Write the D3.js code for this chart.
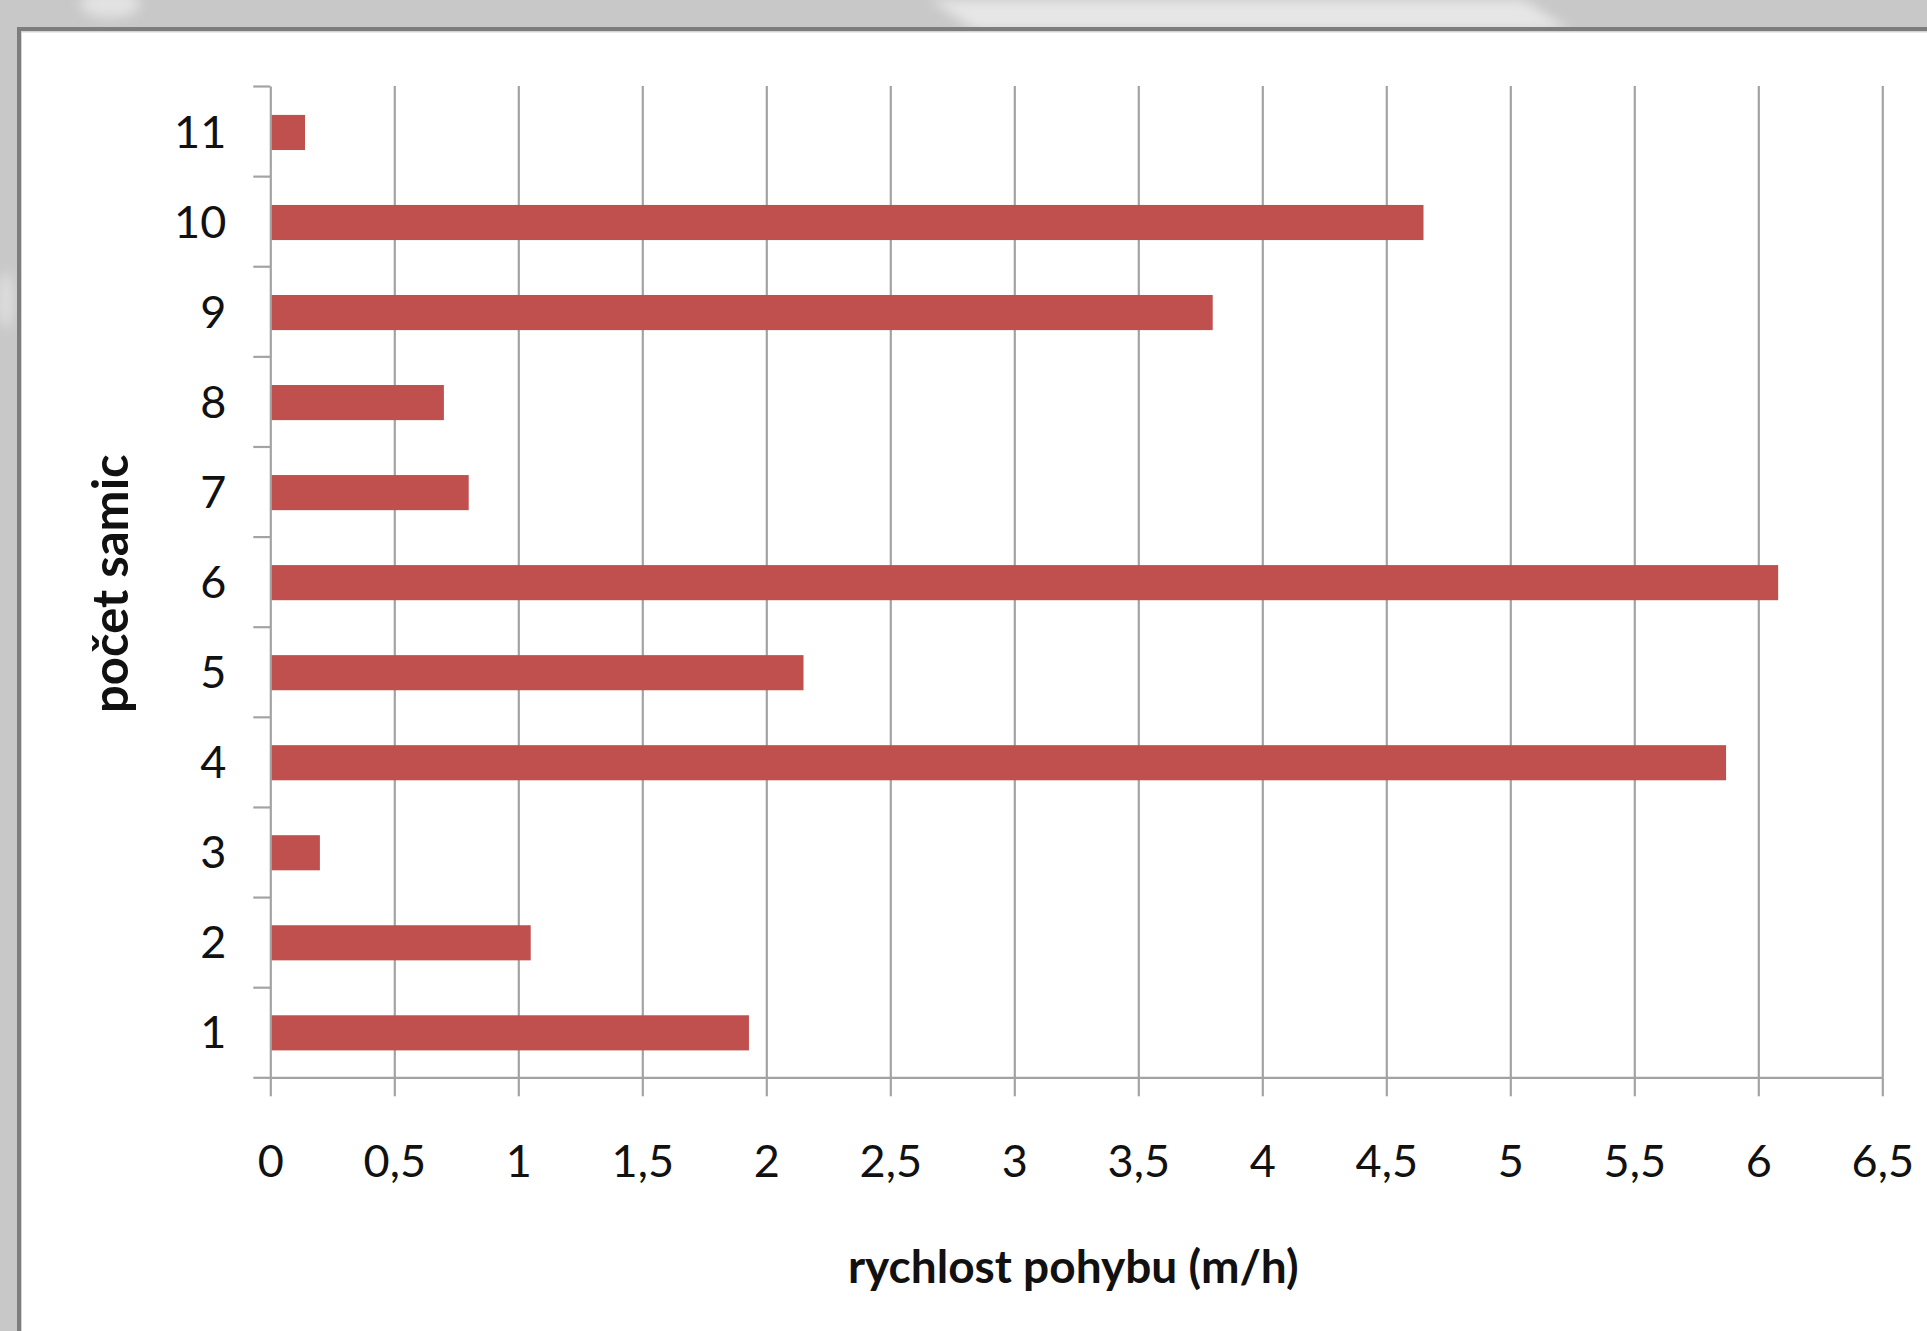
<!DOCTYPE html>
<html>
<head>
<meta charset="utf-8">
<script src="https://cdn.jsdelivr.net/npm/d3@7"></script>
<style>
  html, body { margin: 0; padding: 0; background: #c8c8c8; overflow: hidden; }
  svg { display: block; }
</style>
</head>
<body>
<svg id="chart" width="1927" height="1331"></svg>
<script>
// Number of females (category axis) and the movement speed for each (m/h)
const categories = ["1", "2", "3", "4", "5", "6", "7", "8", "9", "10", "11"];
const speeds = [1.93, 1.05, 0.20, 5.87, 2.15, 6.08, 0.80, 0.70, 3.80, 4.65, 0.14];
const xTicks = [0, 0.5, 1, 1.5, 2, 2.5, 3, 3.5, 4, 4.5, 5, 5.5, 6, 6.5];
const xTitle = "rychlost pohybu (m/h)";
const yTitle = "počet samic";

const W = 1927, H = 1331;
const plot = { left: 270.3, right: 1882.3, top: 86, bottom: 1077.3 };

const svg = d3.select("#chart");
const font = "Lato, 'Open Sans', sans-serif";

// ---- slide-style backdrop with a framed white panel ----
const defs = svg.append("defs");
defs.append("filter").attr("id", "soft")
  .append("feGaussianBlur").attr("stdDeviation", 6);

svg.append("rect").attr("width", W).attr("height", H).attr("fill", "#c8c8c8");
const glow = svg.append("g").attr("filter", "url(#soft)");
glow.append("path").attr("d", "M930,0 L1524,0 L1570,30 L975,30 Z").attr("fill", "#e6e6e6");
glow.append("ellipse").attr("cx", 110).attr("cy", 4).attr("rx", 30).attr("ry", 14).attr("fill", "#e2e2e2");
glow.append("ellipse").attr("cx", 6).attr("cy", 300).attr("rx", 8).attr("ry", 28).attr("fill", "#dedede");

svg.append("rect").attr("x", 17).attr("y", 27).attr("width", W).attr("height", H).attr("fill", "#7d7d7d");
svg.append("rect").attr("x", 21).attr("y", 31).attr("width", W).attr("height", H).attr("fill", "#d4d4d4");
svg.append("rect").attr("x", 22).attr("y", 32.5).attr("width", W).attr("height", H).attr("fill", "#ffffff");

// ---- scales ----
const x = d3.scaleLinear().domain([0, 6.5]).range([plot.left, plot.right]);
const y = d3.scaleBand().domain(categories)
  .range([plot.bottom, plot.top])
  .paddingInner(0.61).paddingOuter(0.31);
const yEdges = d3.scaleLinear().domain([0, categories.length]).range([plot.bottom, plot.top]);

const lineColor = "#a3a3a3";
const g = svg.append("g");

// vertical gridlines
g.append("g")
  .attr("transform", `translate(0,${plot.bottom})`)
  .call(d3.axisBottom(x).tickValues(xTicks.slice(1)).tickSize(-(plot.bottom - plot.top)).tickFormat(""))
  .call(s => s.select(".domain").remove())
  .call(s => s.selectAll("line").attr("stroke", lineColor).attr("stroke-width", 2.2));

// bars
g.append("g").selectAll("rect")
  .data(categories.map((c, i) => ({ c, v: speeds[i] })))
  .join("rect")
  .attr("x", x(0))
  .attr("y", d => y(d.c) + 1)
  .attr("width", d => x(d.v) - x(0))
  .attr("height", y.bandwidth())
  .attr("fill", "#c0504d");

// x axis with outward ticks and comma decimals
const xAxis = g.append("g")
  .attr("transform", `translate(0,${plot.bottom})`)
  .call(d3.axisBottom(x).tickValues(xTicks).tickSize(19).tickSizeOuter(0)
    .tickFormat(d => String(d).replace(".", ",")));
xAxis.select(".domain").attr("stroke", lineColor).attr("stroke-width", 2.2);
xAxis.selectAll("line").attr("stroke", lineColor).attr("stroke-width", 2.2);
xAxis.selectAll("text")
  .attr("y", 100).attr("dy", null)
  .attr("font-family", font).attr("font-size", 45).attr("fill", "#111");

// y axis: ticks sit on the category boundaries, labels in the middle of each band
const yTicks = g.append("g")
  .attr("transform", `translate(${plot.left},0)`)
  .call(d3.axisLeft(yEdges).ticks(categories.length).tickSize(17).tickSizeOuter(0).tickFormat(""));
yTicks.select(".domain").attr("stroke", lineColor).attr("stroke-width", 2.2);
yTicks.selectAll("line").attr("stroke", lineColor).attr("stroke-width", 2.2);

const yLabels = g.append("g")
  .attr("transform", `translate(${plot.left},0)`)
  .call(d3.axisLeft(y).tickSize(0).tickPadding(44));
yLabels.select(".domain").remove();
yLabels.selectAll("text")
  .attr("dy", "0.36em")
  .attr("font-family", font).attr("font-size", 45).attr("fill", "#111");

// axis titles
svg.append("text")
  .attr("x", (plot.left + plot.right) / 2 - 3)
  .attr("y", 1283)
  .attr("text-anchor", "middle")
  .attr("font-family", font).attr("font-weight", "bold").attr("font-size", 46)
  .attr("fill", "#111")
  .text(xTitle);

svg.append("text")
  .attr("transform", `translate(128,${(plot.top + plot.bottom) / 2 + 2}) rotate(-90)`)
  .attr("text-anchor", "middle")
  .attr("font-family", font).attr("font-weight", "bold").attr("font-size", 49)
  .attr("fill", "#111")
  .text(yTitle);
</script>
</body>
</html>
